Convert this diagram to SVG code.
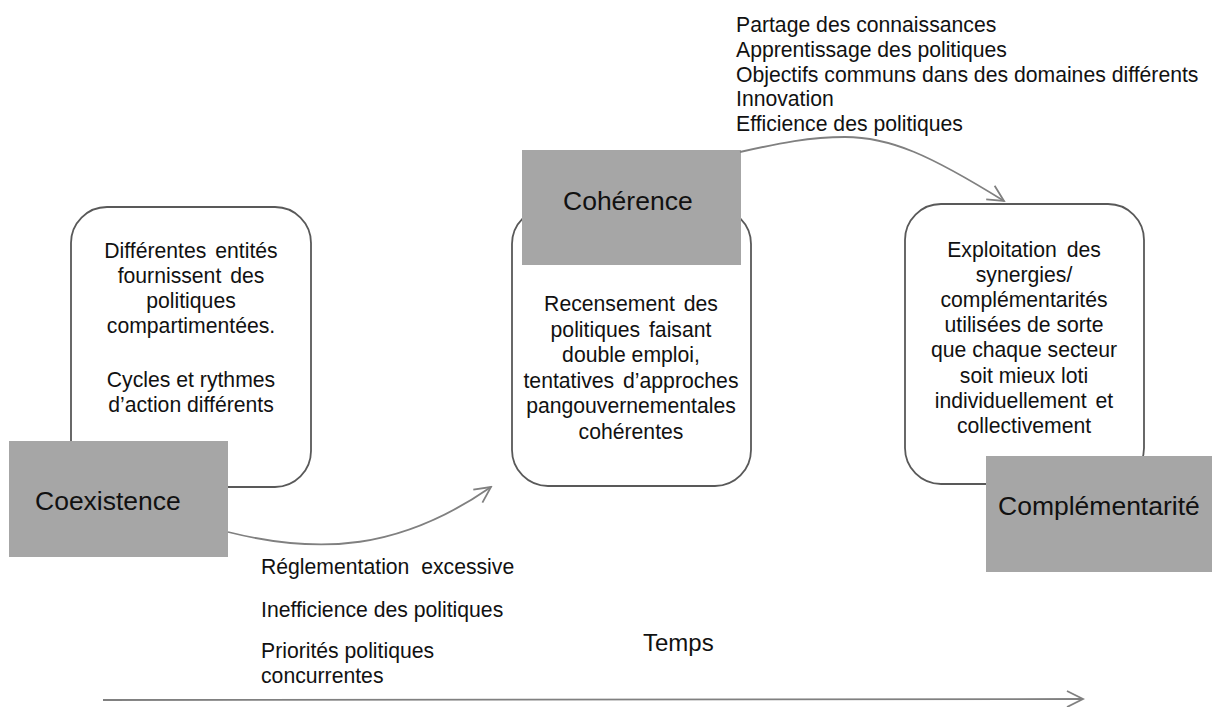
<svg xmlns="http://www.w3.org/2000/svg" width="1214" height="707" viewBox="0 0 1214 707">
<defs>
<style>
.box{fill:#ffffff;stroke:#595959;stroke-width:1.8}
.tag{fill:#a6a6a6}
.t{font-family:"Liberation Sans",Arial,sans-serif;font-size:21.2px;fill:#111}
.c{text-anchor:middle}
.title{font-family:"Liberation Sans",Arial,sans-serif;font-size:26.5px;fill:#111}
.conn{fill:none;stroke:#808080;stroke-width:1.8}
</style>
<marker id="arr" viewBox="0 0 20 20" refX="18" refY="10" markerWidth="20" markerHeight="20" markerUnits="userSpaceOnUse" orient="auto">
<path d="M2,2 L18,10 L2,18" fill="none" stroke="#808080" stroke-width="1.8"/>
</marker>
</defs>
<rect width="1214" height="707" fill="#ffffff"/>

<g id="box-coexistence">
<rect class="box" x="71" y="207" width="240" height="280" rx="36" ry="36"/>
<text class="t c"><tspan x="191" y="258" word-spacing="3">Différentes entités</tspan><tspan x="191" y="283" word-spacing="3">fournissent des</tspan><tspan x="191" y="308">politiques</tspan><tspan x="191" y="333">compartimentées.</tspan><tspan x="191" y="387">Cycles et rythmes</tspan><tspan x="191" y="412">d’action différents</tspan></text>
</g>
<g id="box-coherence">
<rect class="box" x="512" y="208" width="239" height="278" rx="36" ry="36"/>
<text class="t c"><tspan x="631" y="311" word-spacing="3">Recensement des</tspan><tspan x="631" y="336.5" word-spacing="3">politiques faisant</tspan><tspan x="631" y="362">double emploi,</tspan><tspan x="631" y="387.5" word-spacing="3">tentatives d’approches</tspan><tspan x="631" y="413">pangouvernementales</tspan><tspan x="631" y="438.5">cohérentes</tspan></text>
</g>
<g id="box-complementarite">
<rect class="box" x="905" y="204" width="239" height="280" rx="36" ry="36"/>
<text class="t c"><tspan x="1024" y="257" word-spacing="4">Exploitation des</tspan><tspan x="1024" y="282">synergies/</tspan><tspan x="1024" y="307">complémentarités</tspan><tspan x="1024" y="332">utilisées de sorte</tspan><tspan x="1024" y="357">que chaque secteur</tspan><tspan x="1024" y="383">soit mieux loti</tspan><tspan x="1024" y="408" word-spacing="3">individuellement et</tspan><tspan x="1024" y="433">collectivement</tspan></text>
</g>

<g id="tag-coexistence">
<rect class="tag" x="9" y="441" width="219" height="116"/>
<text class="title" x="35" y="510">Coexistence</text>
</g>
<g id="tag-coherence">
<rect class="tag" x="522" y="150" width="219" height="115"/>
<text class="title" x="563" y="210">Cohérence</text>
</g>
<g id="tag-complementarite">
<rect class="tag" x="986" y="456" width="226" height="116"/>
<text class="title" x="998" y="515">Complémentarité</text>
</g>

<g id="connectors">
<path class="conn" d="M228,532 C320,555 400,550 491,487" marker-end="url(#arr)"/>
<path class="conn" d="M740,152 C780,143 810,137 845,137 C890,137 930,155 1004,201" marker-end="url(#arr)"/>
<path class="conn" d="M103,700 L1083,699" stroke-width="2.5" marker-end="url(#arr)"/>
</g>

<g id="label-top">
<text class="t"><tspan x="736" y="32">Partage des connaissances</tspan><tspan x="736" y="57">Apprentissage des politiques</tspan><tspan x="736" y="81.5">Objectifs communs dans des domaines différents</tspan><tspan x="736" y="106">Innovation</tspan><tspan x="736" y="131">Efficience des politiques</tspan></text>
</g>
<g id="label-bottom">
<text class="t" xml:space="preserve" x="261" y="574">Réglementation  excessive</text>
<text class="t" x="261" y="617">Inefficience des politiques</text>
<text class="t"><tspan x="261" y="658">Priorités politiques</tspan><tspan x="261" y="683">concurrentes</tspan></text>
</g>
<g id="label-time">
<text class="t" x="643" y="651" style="font-size:24px">Temps</text>
</g>
</svg>
